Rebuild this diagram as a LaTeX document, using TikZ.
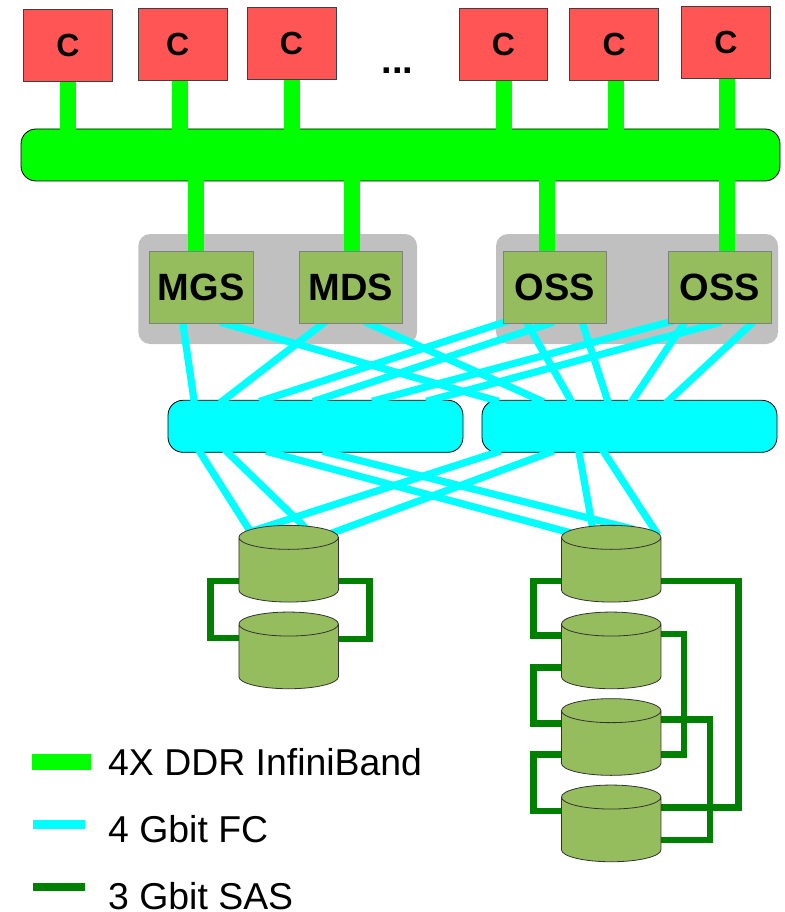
\documentclass[tikz,border=0pt]{standalone}
\usepackage{fontspec}
\setmainfont{Liberation Sans}
\definecolor{clientColor}{HTML}{FF5555}
\definecolor{serverColor}{HTML}{95BD5E}
\definecolor{groupColor}{HTML}{C0C0C0}
\definecolor{ibColor}{HTML}{00FF00}
\definecolor{fcColor}{HTML}{00FFFF}
\definecolor{sasColor}{HTML}{008000}
\usetikzlibrary{positioning,shapes.geometric,backgrounds}
\tikzset{
  clientBox/.style={
    rectangle,
    draw=black!75,
    line width=0.8pt,
    fill=clientColor,
    minimum width=88.8pt,
    minimum height=71.7pt,
    inner sep=0pt,
    outer sep=0pt,
    font=\bfseries\fontsize{32}{32}\selectfont
 },
  serverBox/.style={
    rectangle,
    draw=black!50,
    line width=0.8pt,
    fill=serverColor,
    minimum width=103.5pt,
    minimum height=72pt,
    inner sep=0pt,
    outer sep=0pt,
    font=\bfseries\fontsize{38}{38}\selectfont
 },
  groupBox/.style={
    rectangle,
    rounded corners=12pt,
    fill=groupColor,
    minimum height=110pt,
    inner sep=0pt
 },
  busBox/.style={
    rectangle,
    rounded corners=15pt,
    draw=black,
    line width=0.8pt,
    fill=ibColor,
    minimum height=52pt,
    inner sep=0pt,
    outer sep=0pt
 },
  switchBox/.style={
    rectangle,
    rounded corners=15pt,
    draw=black,
    line width=0.8pt,
    fill=fcColor,
    minimum width=295pt,
    minimum height=52pt,
    inner sep=0pt,
    outer sep=0pt
 },
  diskBox/.style={
    cylinder,
    shape border rotate=90,
    shape aspect=0.48,
    anchor=shape center,
    inner sep=25pt,
    draw=black!80,
    line width=0.8pt,
    fill=serverColor,
    minimum width=99.5pt,
    minimum height=76.7pt,
    outer sep=0pt
 },
  legendText/.style={
    anchor=base west,
    inner sep=0pt,
    font=\fontsize{37.4}{37.4}\selectfont
 },
  ibLink/.style={line width=16pt, color=ibColor, shorten >=-1.5pt},
  fcLink/.style={line width=7.2pt, color=fcColor, shorten >=-4pt, shorten <=-4pt},
  sasLink/.style={line width=6.5pt, color=sasColor}
}
\begin{document}
\begin{tikzpicture}[x=1pt,y=-1pt]
    \useasboundingbox (0,0) rectangle (784,912);
    % clients
    \node[clientBox] (c1) at (67.95,45.15) {C};
    \node[clientBox, right=26pt of c1, yshift=1pt] (c2) {C\kern10pt};
    \node[clientBox, right=20pt of c2, yshift=1pt] (c3) {C};
    \node[clientBox, right=123pt of c3, yshift=-1pt] (c4) {C};
    \node[clientBox, right=22pt of c4] (c5) {C};
    \node[clientBox, right=23pt of c5, yshift=2pt] (c6) {C};
    \node[inner sep=0pt, anchor=base, font=\bfseries\fontsize{38}{38}\selectfont] (dots) at (397.5,74) {...};

    % servers
    \node[serverBox] (mgs) at (201.25,287.3) {MGS};
    \node[serverBox, right=46pt of mgs] (mds) {MDS};
    \node[serverBox, right=100.5pt of mds] (oss1) {OSS};
    \node[serverBox, right=61.5pt of oss1] (oss2) {OSS};

    % disks
    \node[diskBox] (la) at (288.65,563.7) {};
    \node[diskBox] (lb) at (288.65,650.4) {};
    \node[diskBox] (ra) at (611.2,563.7) {};
    \node[diskBox] (rb) at (611.2,650.4) {};
    \node[diskBox] (rc) at (611.2,737) {};
    \node[diskBox] (rd) at (611.2,823.4) {};

    \begin{scope}[on background layer]
        \node[groupBox, minimum width=278.7pt] (metaGroup) at (277.65,289) {};
        \node[groupBox, minimum width=282pt] (ossGroup) at (637,289) {};
        \node[busBox, minimum width=759pt] (bus) at (400.5,155) {};
        \node[switchBox] (swa) at (315.5,426.3) {};
        \node[switchBox, right=19pt of swa] (swb) {};

        % InfiniBand
        \draw[ibLink] (c1.south) -- (c1.south |- bus.north);
        \draw[ibLink] ([xshift=-2.9pt]c2.south) -- ([xshift=-2.9pt]c2.south |- bus.north);
        \draw[ibLink] ([xshift=0.9pt]c3.south) -- ([xshift=0.9pt]c3.south |- bus.north);
        \draw[ibLink] ([xshift=0.7pt]c4.south) -- ([xshift=0.7pt]c4.south |- bus.north);
        \draw[ibLink] ([xshift=2pt]c5.south) -- ([xshift=2pt]c5.south |- bus.north);
        \draw[ibLink] ([xshift=0.6pt]c6.south) -- ([xshift=0.6pt]c6.south |- bus.north);
        \draw[ibLink] ([xshift=-5.65pt]mgs.north) -- ([xshift=-5.65pt]mgs.north |- bus.south);
        \draw[ibLink] ([xshift=1pt]mds.north) -- ([xshift=1pt]mds.north |- bus.south);
        \draw[ibLink] ([xshift=-7.4pt]oss1.north) -- ([xshift=-7.4pt]oss1.north |- bus.south);
        \draw[ibLink] ([xshift=7pt]oss2.north) -- ([xshift=7pt]oss2.north |- bus.south);

        % FC servers to switches
        \draw[fcLink] ([xshift=-18.45pt]mgs.south) -- ([xshift=-121.5pt]swa.north);
        \draw[fcLink] ([xshift=22.75pt]mgs.south) -- ([xshift=-134.5pt]swb.north);
        \draw[fcLink] ([xshift=-27.45pt]mds.south) -- ([xshift=-92.2pt]swa.north);
        \draw[fcLink] ([xshift=17.55pt]mds.south) -- ([xshift=-89.5pt]swb.north);
        \draw[fcLink] ([xshift=4pt,yshift=2pt]oss1.south west) -- ([xshift=-52.5pt]swa.north);
        \draw[fcLink] ([xshift=-4.75pt]oss1.south) -- ([xshift=1.2pt]swa.north);
        \draw[fcLink] ([xshift=-27.75pt]oss1.south) -- ([xshift=-58.7pt]swb.north);
        \draw[fcLink] ([xshift=27.75pt]oss1.south) -- ([xshift=-22pt]swb.north);
        \draw[fcLink] ([xshift=4pt,yshift=2pt]oss2.south west) -- ([xshift=60.3pt]swa.north);
        \draw[fcLink] ([xshift=-3pt]oss2.south) -- ([xshift=114.5pt]swa.north);
        \draw[fcLink] ([xshift=-35.75pt]oss2.south) -- ([xshift=3pt]swb.north);
        \draw[fcLink] ([xshift=32pt]oss2.south) -- ([xshift=39.5pt]swb.north);

        % FC switches to disks
        \draw[fcLink] ([xshift=-115.5pt]swa.south) -- ([shift={(-34.85pt,26.7pt)}]la.shape center);
        \draw[fcLink] ([xshift=-88pt]swa.south) -- ([shift={(19pt,33.7pt)}]la.shape center);
        \draw[fcLink] ([xshift=-45.5pt]swa.south) -- ([shift={(-36.2pt,29.7pt)}]ra.shape center);
        \draw[fcLink] ([xshift=11.2pt]swa.south) -- ([shift={(18.8pt,35.3pt)}]ra.shape center);
        \draw[fcLink] ([xshift=-132.8pt]swb.south) -- ([shift={(-38.65pt,31.9pt)}]la.shape center);
        \draw[fcLink] ([xshift=-79.5pt]swb.south) -- ([shift={(41.35pt,29.9pt)}]la.shape center);
        \draw[fcLink] ([xshift=-50.5pt]swb.south) -- ([shift={(-18.2pt,33.7pt)}]ra.shape center);
        \draw[fcLink] ([xshift=-25.5pt]swb.south) -- ([shift={(44.6pt,32pt)}]ra.shape center);

        % SAS
        \draw[sasLink] ([yshift=-17.3pt]la.shape center) -- ++(-78,0) |- ([yshift=12.4pt]lb.shape center);
        \draw[sasLink] ([yshift=-17.3pt]la.shape center) -- ++(80.8,0) |- ([yshift=11.4pt]lb.shape center);
        \draw[sasLink] ([yshift=-17.3pt]ra.shape center) -- ++(-77.6,0) |- ([yshift=15.1pt]rb.shape center);
        \draw[sasLink] ([yshift=-17.3pt]rb.shape center) -- ++(-77.6,0) |- ([yshift=13.3pt]rc.shape center);
        \draw[sasLink] ([yshift=-17.3pt]rc.shape center) -- ++(-77.6,0) |- ([yshift=12.4pt]rd.shape center);
        \draw[sasLink] ([yshift=-17.3pt]ra.shape center) -- ++(127.4,0) |- ([yshift=15.7pt]rd.shape center);
        \draw[sasLink] ([yshift=16.4pt]rb.shape center) -- ++(72.8,0) |- ([yshift=-17.3pt]rc.shape center);
        \draw[sasLink] ([yshift=17.3pt]rc.shape center) -- ++(98.6,0) |- ([yshift=-16.6pt]rd.shape center);
    \end{scope}

    % legend
    \coordinate (ibStart) at (32,762);
    \coordinate (ibEnd) at (91,762);
    \coordinate (fcStart) at (33,824.5);
    \coordinate (fcEnd) at (85,824.5);
    \coordinate (sasStart) at (33,887);
    \coordinate (sasEnd) at (85,887);
    \draw[ibLink, shorten >=0pt] (ibStart) -- (ibEnd);
    \draw[fcLink, line width=8.3pt, shorten >=0pt, shorten <=0pt] (fcStart) -- (fcEnd);
    \draw[sasLink, line width=8.3pt] (sasStart) -- (sasEnd);
    \node[legendText] (ibLabel) at (108,775.7) {4X DDR InfiniBand};
    \node[legendText] (fcLabel) at (108,842.3) {4 Gbit FC};
    \node[legendText] (sasLabel) at (108,909) {3 Gbit SAS};
\end{tikzpicture}
\end{document}
